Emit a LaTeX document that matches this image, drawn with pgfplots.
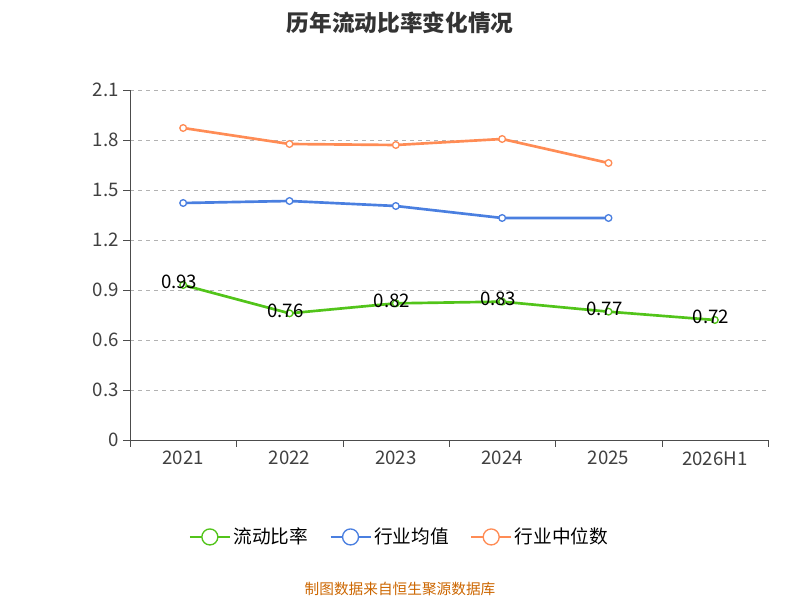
\documentclass[border=0pt]{standalone}
\usepackage{pgfplots}
\pgfplotsset{compat=1.18}
\usepackage{fontspec}
\setmainfont{Noto Sans CJK SC}
\definecolor{cg}{HTML}{52C41A}
\definecolor{cb}{HTML}{4A7FE0}
\definecolor{co}{HTML}{FF8C55}
\begin{document}
\begin{tikzpicture}
\path[use as bounding box] (0,0) rectangle (600pt,450pt);
\node[font=\bfseries\fontsize{17}{20}\selectfont,text=black!80] at (300pt,433pt) {历年流动比率变化情况};
\node[font=\fontsize{11}{13}\selectfont,text=orange!80!black] at (300pt,8pt) {制图数据来自恒生聚源数据库};
\begin{axis}[at={(97.5pt,120pt)},anchor=south west,width=478.5pt,height=262.5pt,scale only axis,
 xmin=-0.5,xmax=5.5,ymin=0,ymax=2.1,
 xtick={0,...,5},xticklabels={2021,2022,2023,2024,2025,2026H1},major x tick style={draw=none},
 minor xtick={-0.5,0.5,...,5.5},
 ytick={0,0.3,...,2.1},yticklabels={0,0.3,0.6,0.9,1.2,1.5,1.8,2.1},
 axis x line*=bottom, axis y line*=left, axis line style={black!70,-},
 tick align=outside, tick style={black!70},
 minor tick length=5pt, major tick length=5pt,
 ymajorgrids, grid style={dashed,black!30},
 tick label style={font=\fontsize{14}{16}\selectfont,text=black!75},
 /pgf/number format/assume math mode=true,
 legend style={at={(0.423,-0.277)},anchor=center,draw=none,legend columns=3,font=\fontsize{14}{16}\selectfont,/tikz/every even column/.append style={column sep=14pt}},
 legend image code/.code={\draw[#1,line width=1.5pt] (0pt,0pt)--(30pt,0pt); \draw[#1,line width=1pt,fill=white,mark size=0pt] (15pt,0pt) circle (6pt);},
]
\addplot[cg, line width=2pt, mark=*, mark size=2.5pt, mark options={fill=white,line width=1pt}, nodes near coords, point meta=explicit symbolic, every node near coord/.append style={anchor=center,font=\fontsize{14}{16}\selectfont,text=black,xshift=-3pt,yshift=2pt}] coordinates {(0,0.93)[0.93] (1,0.76)[0.76] (2,0.82)[0.82] (3,0.83)[0.83] (4,0.77)[0.77] (5,0.72)[0.72]};
\addlegendentry{流动比率}
\addplot[cb, line width=2pt, mark=*, mark size=2.5pt, mark options={fill=white,line width=1pt}] coordinates {(0,1.422) (1,1.434) (2,1.404) (3,1.332) (4,1.332)};
\addlegendentry{行业均值}
\addplot[co, line width=2pt, mark=*, mark size=2.5pt, mark options={fill=white,line width=1pt}] coordinates {(0,1.872) (1,1.776) (2,1.77) (3,1.806) (4,1.662)};
\addlegendentry{行业中位数}
\end{axis}
\end{tikzpicture}
\end{document}
